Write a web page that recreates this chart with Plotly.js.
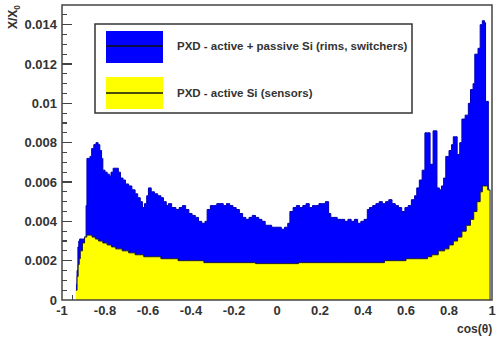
<!DOCTYPE html>
<html>
<head>
<meta charset="utf-8">
<script src="https://cdn.plot.ly/plotly-3.0.1.min.js"></script>
<style>
html,body{margin:0;padding:0;background:#fff;}
#chart{width:498px;height:343px;}
</style>
</head>
<body>
<div id="chart"></div>
<script>
// Total material: active + passive Si (step edges in cos(theta), X/X0)
const blueX = [-0.935,-0.930,-0.926,-0.922,-0.918,-0.905,-0.895,-0.888,-0.884,-0.870,-0.862,-0.852,-0.842,-0.832,-0.824,-0.816,-0.810,-0.800,-0.790,-0.780,-0.772,-0.762,-0.748,-0.738,-0.728,-0.716,-0.705,-0.690,-0.675,-0.660,-0.648,-0.636,-0.626,-0.616,-0.606,-0.598,-0.585,-0.570,-0.555,-0.540,-0.528,-0.515,-0.505,-0.490,-0.470,-0.455,-0.440,-0.425,-0.410,-0.395,-0.380,-0.365,-0.350,-0.335,-0.325,-0.310,-0.295,-0.280,-0.265,-0.250,-0.235,-0.220,-0.205,-0.190,-0.175,-0.160,-0.145,-0.130,-0.115,-0.100,-0.085,-0.070,-0.055,-0.040,-0.025,-0.010,0.005,0.020,0.035,0.050,0.060,0.075,0.090,0.105,0.120,0.135,0.150,0.165,0.180,0.195,0.210,0.225,0.240,0.250,0.265,0.280,0.300,0.315,0.330,0.345,0.360,0.375,0.390,0.405,0.420,0.430,0.445,0.460,0.475,0.490,0.505,0.520,0.535,0.550,0.565,0.580,0.595,0.610,0.625,0.640,0.650,0.662,0.675,0.688,0.700,0.712,0.726,0.735,0.744,0.755,0.765,0.775,0.785,0.800,0.812,0.820,0.830,0.838,0.850,0.860,0.875,0.890,0.900,0.912,0.920,0.935,0.945,0.955,0.965,0.970,0.983];
const blueY = [0.0008,0.0015,0.0027,0.0030,0.0031,0.0031,0.0032,0.0048,0.0072,0.0073,0.0077,0.0079,0.0080,0.0079,0.0076,0.0072,0.0066,0.0065,0.0064,0.0063,0.0065,0.0067,0.0067,0.0065,0.0062,0.0061,0.0059,0.0058,0.0056,0.0054,0.0052,0.0050,0.0047,0.0049,0.0053,0.0057,0.0055,0.0054,0.0053,0.0052,0.0050,0.0048,0.0049,0.0047,0.0046,0.0047,0.0048,0.0046,0.0044,0.0043,0.0042,0.0040,0.0039,0.0040,0.0046,0.0048,0.0048,0.0049,0.0049,0.0048,0.0049,0.0048,0.0047,0.0046,0.0044,0.0042,0.0041,0.0042,0.0043,0.0042,0.0041,0.0040,0.0038,0.0038,0.0037,0.0037,0.0037,0.0036,0.0037,0.0039,0.0045,0.0047,0.0048,0.0047,0.0048,0.0049,0.0047,0.0048,0.0048,0.0049,0.0049,0.0050,0.0044,0.0042,0.0042,0.0041,0.0041,0.0040,0.0041,0.0040,0.0041,0.0039,0.0040,0.0041,0.0046,0.0047,0.0048,0.0049,0.0050,0.0049,0.0050,0.0051,0.0049,0.0048,0.0047,0.0045,0.0047,0.0048,0.0051,0.0053,0.0057,0.0061,0.0066,0.0085,0.0085,0.0069,0.0086,0.0086,0.0057,0.0056,0.0058,0.0062,0.0073,0.0076,0.0079,0.0083,0.0083,0.0074,0.0080,0.0092,0.0094,0.0100,0.0107,0.0110,0.0125,0.0128,0.0140,0.0142,0.0141,0.0101,0];
// Active Si only (sensors)
const yellowX = [-0.935,-0.930,-0.925,-0.920,-0.915,-0.905,-0.895,-0.885,-0.870,-0.860,-0.845,-0.830,-0.810,-0.790,-0.770,-0.750,-0.720,-0.690,-0.660,-0.620,-0.580,-0.540,-0.500,-0.460,-0.420,-0.380,-0.340,-0.200,-0.100,0.000,0.100,0.200,0.300,0.400,0.500,0.550,0.600,0.650,0.700,0.720,0.750,0.780,0.800,0.820,0.840,0.860,0.880,0.900,0.915,0.930,0.945,0.955,0.970,0.980,0.991];
const yellowY = [0.0005,0.0012,0.0018,0.0021,0.0025,0.0029,0.0032,0.0033,0.0033,0.0032,0.0031,0.0030,0.0029,0.0028,0.0027,0.0026,0.0025,0.0024,0.0023,0.0022,0.0022,0.0021,0.0021,0.0020,0.0020,0.0020,0.0019,0.0019,0.00185,0.00185,0.0019,0.0019,0.0019,0.0019,0.0020,0.0020,0.0021,0.0021,0.0022,0.0023,0.0025,0.0026,0.0028,0.0030,0.0032,0.0035,0.0038,0.0041,0.0045,0.0050,0.0055,0.0058,0.0058,0.0056,0];

const xTickVals = [-1,-0.8,-0.6,-0.4,-0.2,0,0.2,0.4,0.6,0.8,1];
const xTickText = ['-1','-0.8','-0.6','-0.4','-0.2','0','0.2','0.4','0.6','0.8','1'];
const yTickVals = [0,0.002,0.004,0.006,0.008,0.01,0.012,0.014];
const yTickText = ['0','0.002','0.004','0.006','0.008','0.01','0.012','0.014'];

const legendLabels = ['PXD - active + passive Si (rims, switchers)','PXD - active Si (sensors)'];
const seriesColors = ['#0000ff','#ffff00'];

// plot area in pixels: left 62, right 492, top 5, bottom 300
const L=62, R=492, T=5, B=300;
const px = x => (x-L)/(R-L);
const py = y => (B-y)/(B-T);

const font = {family:'Arial, Liberation Sans, Helvetica, sans-serif', color:'#333'};

const traces = [
  {x: blueX, y: blueY, type:'scatter', mode:'lines', line:{shape:'hv', color:'#0000b4', width:1},
   fill:'tozeroy', fillcolor:seriesColors[0], hoverinfo:'skip', showlegend:false},
  {x: yellowX, y: yellowY, type:'scatter', mode:'lines', line:{shape:'hv', color:'#1a1a40', width:1},
   fill:'tozeroy', fillcolor:seriesColors[1], hoverinfo:'skip', showlegend:false}
];

const shapes = [
  {type:'rect', xref:'paper', yref:'paper', x0:0, x1:1, y0:0, y1:1, line:{color:'#444', width:1.5}, layer:'above'},
  {type:'rect', xref:'paper', yref:'paper', x0:px(95), x1:px(412), y0:py(113), y1:py(24), line:{color:'#333', width:1.5}, fillcolor:'#fff', layer:'above'},
  {type:'rect', xref:'paper', yref:'paper', x0:px(106), x1:px(163), y0:py(63), y1:py(31), line:{width:0}, fillcolor:seriesColors[0], layer:'above'},
  {type:'line', xref:'paper', yref:'paper', x0:px(106), x1:px(163), y0:py(46), y1:py(46), line:{color:'#111', width:1.5}, layer:'above'},
  {type:'rect', xref:'paper', yref:'paper', x0:px(106), x1:px(163), y0:py(109), y1:py(77), line:{width:0}, fillcolor:seriesColors[1], layer:'above'},
  {type:'line', xref:'paper', yref:'paper', x0:px(106), x1:px(163), y0:py(93), y1:py(93), line:{color:'#111', width:1.5}, layer:'above'}
];

const annotations = [
  {xref:'paper', yref:'paper', x:px(175), y:py(46), xanchor:'left', yanchor:'middle', showarrow:false,
   text:'<b>'+legendLabels[0]+'</b>', font:Object.assign({size:11.5}, font)},
  {xref:'paper', yref:'paper', x:px(175), y:py(93), xanchor:'left', yanchor:'middle', showarrow:false,
   text:'<b>'+legendLabels[1]+'</b>', font:Object.assign({size:11.5}, font)},
  {xref:'paper', yref:'paper', x:px(14), y:py(3), xanchor:'center', yanchor:'top', showarrow:false, textangle:-90,
   text:'<b>X/X<sub>0</sub></b>', font:Object.assign({size:12}, font)},
  {xref:'paper', yref:'paper', x:px(494), y:py(329), xanchor:'right', yanchor:'middle', showarrow:false,
   text:'<b>cos(θ)</b>', font:Object.assign({size:12}, font)}
];

const layout = {
  width:498, height:343,
  margin:{l:L, r:498-R, t:T, b:343-B, pad:0},
  paper_bgcolor:'#fff', plot_bgcolor:'#fff',
  showlegend:false,
  xaxis:{range:[-1,1], tickmode:'array', tickvals:xTickVals, ticktext:xTickText,
    ticks:'inside', ticklen:9, tickcolor:'#444', tickwidth:1, layer:'below traces', ticklabelstandoff:1,
    minor:{dtick:0.05, ticks:'inside', ticklen:5, tickcolor:'#444', showgrid:false},
    showgrid:false, zeroline:false, showline:false,
    tickfont:Object.assign({size:13, weight:'bold'}, font)},
  yaxis:{range:[0,0.015], tickmode:'array', tickvals:yTickVals, ticktext:yTickText,
    ticks:'inside', ticklen:10, tickcolor:'#444', tickwidth:1.2, ticklabelstandoff:4,
    minor:{dtick:0.0005, tick0:0, ticks:'inside', ticklen:5, tickcolor:'#444', showgrid:false},
    showgrid:false, zeroline:false, showline:false,
    tickfont:Object.assign({size:13, weight:'bold'}, font)},
  shapes:shapes, annotations:annotations
};

Plotly.newPlot('chart', traces, layout, {staticPlot:true, displayModeBar:false});
</script>
</body>
</html>
